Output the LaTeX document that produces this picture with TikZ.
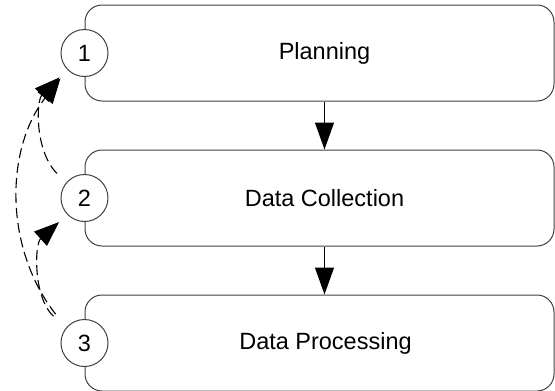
\documentclass[tikz,border=0pt]{standalone}
\usepackage{fontspec}
\setmainfont{Liberation Sans}
\usepackage{xcolor}
\usepackage{tikz}
\usetikzlibrary{arrows.meta,positioning}
\definecolor{linegray}{HTML}{404040}
\tikzset{
  phase/.style={draw=linegray,line width=1pt,rounded corners=17pt,
    minimum width=469pt,minimum height=96pt,inner sep=0pt},
  number/.style={circle,draw=linegray,fill=white,line width=1pt,
    minimum size=47pt,inner sep=0pt},
  flow/.style={-{Triangle[length=27pt,width=19pt]},line width=1.1pt},
  feedback/.style={-{Triangle[length=25pt,width=19pt]},line width=1.1pt,
    dash pattern=on 10pt off 5pt},
  lifecycle/.style={node distance=48pt,
    every node/.style={font=\fontsize{23.5}{28}\selectfont}
  }
}
\begin{document}
\begin{tikzpicture}[lifecycle]
  \useasboundingbox (0,0) rectangle (555pt,-391pt);

  \node[phase] (plan) at (319.5pt,-53pt) {};
  \node[phase,below=of plan] (collect) {};
  \node[phase,below=of collect] (process) {};

  \node (plantext) at ([xshift=5pt]plan.center) {Planning};
  \node (collecttext) at ([xshift=5pt]collect.center) {Data Collection};
  \node (processtext) at ([xshift=6pt]process.center) {Data Processing};

  \node[number] (n1) at (plan.west) {1};
  \node[number] (n2) at (collect.west) {2};
  \node[number] (n3) at (process.west) {3};

  \path[flow]
  (plantext |- plan.south) edge (plantext |- collect.north)
  (plantext |- collect.south) edge (plantext |- process.north)
  ;

  \path[feedback]
  (n2.140) edge[out=135,in=225,shorten <=13pt,shorten >=11pt] (n1.224)
  (n3.140) edge[out=128,in=232,shorten <=17pt,shorten >=11pt] (n1.224)
  (n3.140) edge[out=138,in=222,shorten <=17pt,shorten >=11pt] (n2.224)
  ;
\end{tikzpicture}
\end{document}
